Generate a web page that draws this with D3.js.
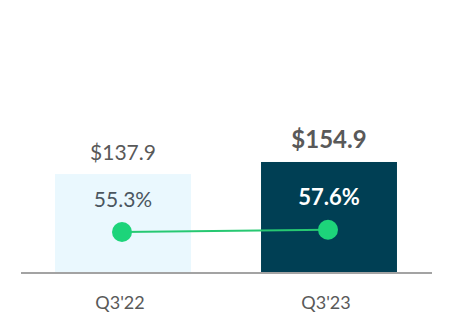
<!DOCTYPE html>
<html>
<head>
<meta charset="utf-8">
<script src="https://cdn.jsdelivr.net/npm/d3@7"></script>
<style>
  html, body { margin: 0; padding: 0; background: #fff; }
  svg { display: block; font-family: Lato, "Open Sans", sans-serif; }
</style>
</head>
<body>
<div class="chart"></div>
<script>
// data
const quarters = ["Q3'22", "Q3'23"];
const revenue = [137.9, 154.9];
const revenueLabels = ["$137.9", "$154.9"];
const margin = [55.3, 57.6];
const marginLabels = ["55.3%", "57.6%"];

const width = 452, height = 332;
const barColors = ["#eaf8fe", "#003f54"];
const pctColors = ["#4b5660", "#ffffff"];
const valColors = ["#595959", "#595959"];
const revSizes = [21, 24];
const pctSizes = [21, 22];

const svg = d3.select('.chart').append('svg')
  .attr('width', width)
  .attr('height', height);

const x = d3.scaleBand()
  .domain(quarters)
  .range([20, 432])
  .paddingInner(0.34)
  .paddingOuter(0.17);

const y = d3.scaleLinear()
  .domain([0, 383])
  .range([272, 0]);

// secondary scale for the margin line
const y2 = d3.scaleLinear()
  .domain([0, 100])
  .range([287.3, 187.3]);

const rows = quarters.map((q, i) => ({
  q, i, rev: revenue[i], revLabel: revenueLabels[i], pct: margin[i], pctLabel: marginLabels[i]
}));

svg.selectAll('rect.bar')
  .data(rows)
  .enter()
  .append('rect')
    .attr('class', 'bar')
    .attr('x', d => x(d.q))
    .attr('y', d => y(d.rev))
    .attr('width', x.bandwidth())
    .attr('height', d => y(0) - y(d.rev))
    .attr('fill', d => barColors[d.i]);

// baseline
svg.append('line')
  .attr('x1', 21).attr('x2', 432)
  .attr('y1', y(0) + 1).attr('y2', y(0) + 1)
  .attr('stroke', '#a3a3a3')
  .attr('stroke-width', 2);

// revenue labels
svg.selectAll('text.rev')
  .data(rows)
  .enter()
  .append('text')
    .attr('class', 'rev')
    .attr('x', d => x(d.q) + x.bandwidth() / 2)
    .attr('y', d => y(d.rev) - 14)
    .attr('text-anchor', 'middle')
    .attr('font-size', d => revSizes[d.i])
    .attr('font-weight', d => d.i === 1 ? 'bold' : 'normal')
    .attr('fill', d => valColors[d.i])
    .text(d => d.revLabel);

// margin line
const line = d3.line()
  .x(d => x(d.q) + x.bandwidth() / 2 - 1)
  .y(d => y2(d.pct));

svg.append('path')
  .attr('d', line(rows))
  .attr('fill', 'none')
  .attr('stroke', '#27c872')
  .attr('stroke-width', 2);

svg.selectAll('circle.dot')
  .data(rows)
  .enter()
  .append('circle')
    .attr('class', 'dot')
    .attr('cx', d => x(d.q) + x.bandwidth() / 2 - 1)
    .attr('cy', d => y2(d.pct))
    .attr('r', 10)
    .attr('fill', '#1dd47a');

svg.selectAll('text.pct')
  .data(rows)
  .enter()
  .append('text')
    .attr('class', 'pct')
    .attr('x', d => x(d.q) + x.bandwidth() / 2)
    .attr('y', d => y2(d.pct) - 25)
    .attr('text-anchor', 'middle')
    .attr('font-size', d => pctSizes[d.i])
    .attr('font-weight', d => d.i === 1 ? 'bold' : 'normal')
    .attr('fill', d => pctColors[d.i])
    .text(d => d.pctLabel);

// category axis
const xAxis = d3.axisBottom(x).tickSize(0).tickPadding(0);
const gx = svg.append('g')
  .attr('transform', 'translate(-3,' + 296 + ')')
  .call(xAxis);
gx.select('.domain').remove();
gx.selectAll('text')
  .attr('font-family', 'Lato, "Open Sans", sans-serif')
  .attr('font-size', 18)
  .attr('fill', '#595959');
</script>
</body>
</html>
